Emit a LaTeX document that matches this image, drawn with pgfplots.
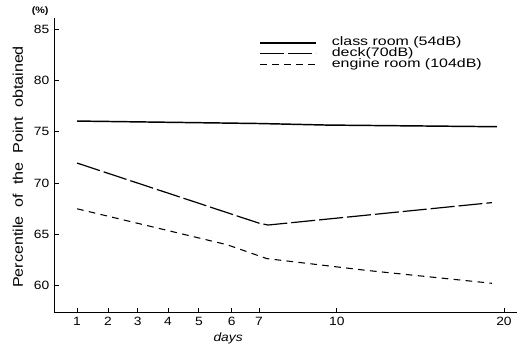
\documentclass[border=0pt]{standalone}
\usepackage{pgfplots}
\pgfplotsset{compat=1.18}
\usepackage{fontspec}
\setmainfont{Liberation Sans}[FakeStretch=1.15]
\newfontfamily\legfont{Liberation Sans}[FakeStretch=1.3]
\usetikzlibrary{calc}
\begin{document}
\begin{tikzpicture}
\begin{axis}[
  scale only axis, width=347pt, height=221pt,
  xmin=0.24, xmax=15.51, ymin=57.37, ymax=86.07,
  clip=false,
  axis x line*=bottom, axis y line*=left,
  axis line style={line width=0.8pt, -},
  xtick={1,2.02,3.0,4.0,5.02,6.1,7,9.57,15.08},
  xticklabels={1,2,3,4,5,6,7,10,20},
  ytick={60,65,70,75,80,85},
  tick align=inside,
  major tick length=4pt,
  tick style={black, line width=0.7pt},
  /pgf/number format/assume math mode=true,
  tick label style={font=\fontsize{9}{10}\selectfont},
  xlabel={\textit{days}},
  xlabel style={at={(rel axis cs:0.376,0)}, anchor=center, yshift=-19pt, font=\fontsize{9}{10}\selectfont},
  ylabel={Percentile\ \ of\ \ the\ \ Point\ \ obtained},
  ylabel style={at={(rel axis cs:-0.078,0.495)}, anchor=center, font=\fontsize{10.5}{12}\selectfont},
  legend style={at={(rel axis cs:0.435,0.944)}, anchor=north west, draw=none, fill=none,
    font=\legfont\fontsize{9.2}{10}\selectfont, row sep=0pt, legend cell align=left,
    nodes={text height=6.2pt, text depth=1.6pt, inner ysep=0.2pt},
    /tikz/every odd column/.append style={column sep=9pt}},
  legend image code/.code={\draw[#1] (0pt,0pt) -- (42pt,0pt);},
]
\addplot[black, line width=1.1pt] coordinates {(1,76.04)(7,75.8)(9.24,75.65)(14.85,75.49)};
\addlegendentry{class room (54dB)}
\addplot[black, line width=0.9pt, dash pattern=on 18pt off 3pt] coordinates {(1,71.95)(7.0,66.1)(7.3,65.92)(14.68,68.1)};
\addlegendentry{deck(70dB)}
\addplot[black, line width=0.8pt, dash pattern=on 5pt off 4pt] coordinates {(1,67.5)(5.95,64.0)(7.26,62.65)(10.56,61.5)(14.68,60.25)};
\addlegendentry{engine room (104dB)}
\node[font=\bfseries\fontsize{7}{8}\selectfont] at (rel axis cs:-0.03,1.024) {(\%)};
\coordinate (bl) at (rel axis cs:0,0);
\coordinate (tr) at (rel axis cs:1,1);
\end{axis}
\pgfresetboundingbox
\path ($(bl)+(-40.5pt,-24pt)$) rectangle ($(tr)+(2.25pt,13.5pt)$);
\end{tikzpicture}
\end{document}
